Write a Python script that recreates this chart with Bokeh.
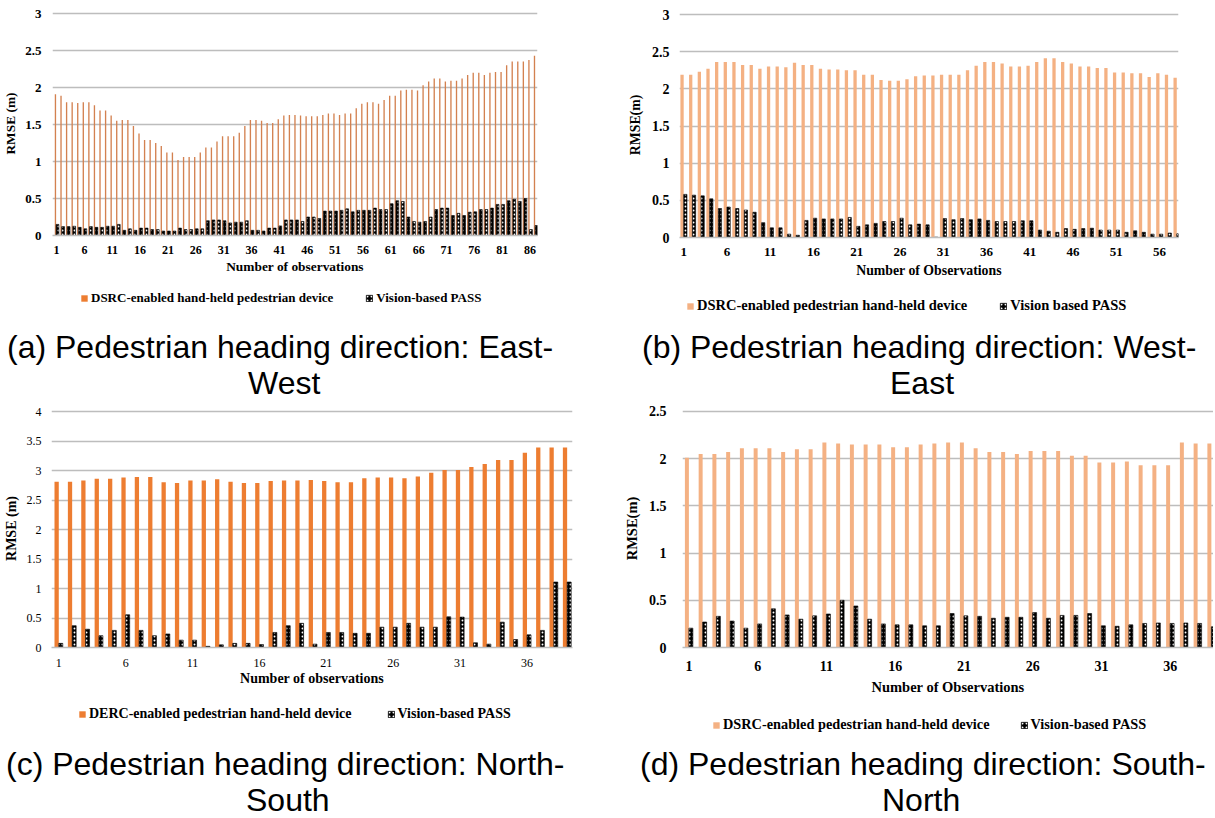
from bokeh.plotting import figure
from bokeh.models import (Range1d, FixedTicker, Legend, LegendItem, Div,
                          ColumnDataSource, CustomJSTickFormatter)
from bokeh.transform import dodge
from bokeh.layouts import row, column
from bokeh.embed import file_html
from bokeh.resources import INLINE

# ---------------- data ----------------
a_dsrc = [1.91, 1.89, 1.80, 1.80, 1.79, 1.80, 1.80, 1.76, 1.69, 1.69,
          1.62, 1.55, 1.56, 1.56, 1.48, 1.38, 1.29, 1.29, 1.25, 1.21,
          1.12, 1.12, 1.02, 1.06, 1.06, 1.06, 1.12, 1.19, 1.19, 1.27,
          1.34, 1.34, 1.34, 1.39, 1.48, 1.56, 1.56, 1.55, 1.52, 1.52,
          1.57, 1.62, 1.63, 1.63, 1.62, 1.61, 1.61, 1.61, 1.63, 1.65,
          1.65, 1.63, 1.65, 1.65, 1.72, 1.78, 1.80, 1.80, 1.78, 1.83,
          1.89, 1.89, 1.96, 1.97, 1.97, 1.96, 2.03, 2.08, 2.12, 2.12,
          2.08, 2.09, 2.09, 2.12, 2.17, 2.20, 2.20, 2.17, 2.20, 2.21,
          2.21, 2.30, 2.35, 2.35, 2.35, 2.37, 2.43]
a_pass = [0.15, 0.12, 0.12, 0.125, 0.11, 0.09, 0.12, 0.11, 0.11, 0.125,
          0.125, 0.15, 0.07, 0.09, 0.07, 0.10, 0.10, 0.08, 0.08, 0.06,
          0.06, 0.06, 0.10, 0.08, 0.08, 0.09, 0.09, 0.20, 0.21, 0.21,
          0.20, 0.17, 0.18, 0.18, 0.20, 0.07, 0.07, 0.06, 0.10, 0.10,
          0.13, 0.21, 0.21, 0.21, 0.19, 0.25, 0.25, 0.23, 0.33, 0.33,
          0.33, 0.34, 0.36, 0.32, 0.34, 0.34, 0.34, 0.37, 0.35, 0.35,
          0.43, 0.47, 0.46, 0.25, 0.19, 0.18, 0.19, 0.25, 0.35, 0.37,
          0.37, 0.27, 0.30, 0.27, 0.315, 0.32, 0.35, 0.35, 0.37, 0.42,
          0.42, 0.47, 0.49, 0.46, 0.50, 0.08, 0.135]

b_dsrc = [2.19, 2.19, 2.23, 2.27, 2.36, 2.36, 2.36, 2.32, 2.32, 2.27,
          2.30, 2.30, 2.29, 2.35, 2.32, 2.32, 2.27, 2.26, 2.26, 2.25,
          2.25, 2.19, 2.19, 2.12, 2.11, 2.11, 2.13, 2.17, 2.18, 2.18,
          2.19, 2.19, 2.19, 2.25, 2.31, 2.36, 2.36, 2.34, 2.30, 2.30,
          2.31, 2.36, 2.41, 2.41, 2.36, 2.34, 2.30, 2.30, 2.28, 2.28,
          2.22, 2.22, 2.21, 2.21, 2.16, 2.21, 2.19, 2.15]
b_pass = [0.58, 0.57, 0.56, 0.52, 0.39, 0.41, 0.39, 0.37, 0.34, 0.20,
          0.13, 0.13, 0.045, 0.03, 0.23, 0.26, 0.25, 0.25, 0.25, 0.27,
          0.15, 0.17, 0.19, 0.215, 0.215, 0.26, 0.17, 0.18, 0.17, 0.005,
          0.255, 0.24, 0.255, 0.24, 0.25, 0.23, 0.215, 0.215, 0.215, 0.225,
          0.225, 0.10, 0.085, 0.07, 0.12, 0.11, 0.12, 0.125, 0.10, 0.10,
          0.10, 0.07, 0.09, 0.07, 0.045, 0.045, 0.06, 0.05]

c_dsrc = [2.81, 2.81, 2.83, 2.86, 2.86, 2.88, 2.89, 2.89, 2.80, 2.79,
          2.83, 2.83, 2.85, 2.81, 2.79, 2.79, 2.82, 2.83, 2.83, 2.84,
          2.82, 2.80, 2.80, 2.87, 2.88, 2.88, 2.87, 2.90, 2.96, 3.01,
          3.01, 3.06, 3.11, 3.18, 3.18, 3.30, 3.39, 3.39, 3.39]
c_pass = [0.07, 0.37, 0.31, 0.20, 0.29, 0.555, 0.29, 0.20, 0.23, 0.125,
          0.125, 0.02, 0.045, 0.07, 0.07, 0.05, 0.255, 0.37, 0.41, 0.057,
          0.255, 0.255, 0.24, 0.24, 0.345, 0.345, 0.41, 0.345, 0.345, 0.52,
          0.515, 0.08, 0.057, 0.43, 0.135, 0.215, 0.29, 1.11, 1.11]

d_dsrc = [2.01, 2.05, 2.05, 2.07, 2.11, 2.11, 2.11, 2.07, 2.10, 2.10,
          2.17, 2.16, 2.15, 2.15, 2.15, 2.12, 2.12, 2.15, 2.16, 2.17,
          2.17, 2.11, 2.07, 2.07, 2.05, 2.08, 2.08, 2.08, 2.03, 2.03,
          1.96, 1.96, 1.97, 1.93, 1.93, 1.93, 2.17, 2.16, 2.16]
d_pass = [0.205, 0.27, 0.33, 0.28, 0.205, 0.25, 0.41, 0.345, 0.30, 0.335,
          0.355, 0.50, 0.44, 0.30, 0.25, 0.24, 0.24, 0.23, 0.23, 0.36,
          0.335, 0.33, 0.31, 0.32, 0.32, 0.37, 0.31, 0.34, 0.34, 0.36,
          0.23, 0.225, 0.24, 0.255, 0.26, 0.255, 0.26, 0.255, 0.22]

y_ticks_3 = [0, 0.5, 1, 1.5, 2, 2.5, 3]
y_ticks_4 = [0, 0.5, 1, 1.5, 2, 2.5, 3, 3.5, 4]
y_ticks_25 = [0, 0.5, 1, 1.5, 2, 2.5]

SERIF = "Liberation Serif"
SANS = "Liberation Sans"
GRID = "#BDBDBD"
ORANGE = "#ED7D31"
ORANGE_THIN = "#D38150"
PEACH = "#F4B183"

HATCH = dict(fill_color="black", line_color="black", line_width=0.6,
             hatch_pattern="dot", hatch_color="white", hatch_scale=4,
             hatch_weight=1.2)


def chart(W, H, fl, ft, fr, fb, xr, ymax, yticks, dsrc, vpass, ocolor,
          ooff, ow, koff, kw, ytitle, xtitle, tick_style, xfs, yfs, tfs,
          ylab_standoff, ytitle_standoff, xlab_standoff, xtitle_standoff):
    pad = 2
    ytop = ymax + pad * ymax / (fb - ft)
    p = figure(width=W, height=H, x_range=Range1d(*xr), y_range=Range1d(0, ytop),
               output_backend="svg", toolbar_location=None,
               min_border_left=fl, min_border_top=ft - pad,
               min_border_right=W - fr, min_border_bottom=H - fb)
    p.outline_line_color = None
    n = len(dsrc)
    src = ColumnDataSource(dict(obs=list(range(1, n + 1)), dsrc=dsrc, vpass=vpass))
    p.vbar(x=dodge("obs", ooff, range=p.x_range), top="dsrc", bottom=0,
           width=ow, source=src, fill_color=ocolor, line_color=None)
    p.vbar(x=dodge("obs", koff, range=p.x_range), top="vpass", bottom=0,
           width=kw, source=src, **HATCH)

    xa = p.xaxis[0]
    xa.ticker = FixedTicker(ticks=list(range(1, n + 1, 5)))
    xa.axis_line_color = GRID
    xa.axis_line_width = 1.6
    xa.major_tick_line_color = None
    xa.minor_tick_line_color = None
    xa.major_label_text_font = SERIF
    xa.major_label_text_font_size = xfs
    xa.major_label_text_font_style = tick_style
    xa.major_label_text_color = "black"
    xa.major_label_standoff = xlab_standoff
    xa.axis_label = xtitle
    xa.axis_label_text_font = SERIF
    xa.axis_label_text_font_size = tfs
    xa.axis_label_text_font_style = "bold"
    xa.axis_label_text_color = "black"
    xa.axis_label_standoff = xtitle_standoff

    ya = p.yaxis[0]
    ya.ticker = FixedTicker(ticks=yticks)
    ya.formatter = CustomJSTickFormatter(code="return tick.toString()")
    ya.axis_line_color = None
    ya.major_tick_line_color = None
    ya.minor_tick_line_color = None
    ya.major_label_text_font = SERIF
    ya.major_label_text_font_size = yfs
    ya.major_label_text_font_style = tick_style
    ya.major_label_text_color = "black"
    ya.major_label_standoff = ylab_standoff
    ya.axis_label = ytitle
    ya.axis_label_text_font = SERIF
    ya.axis_label_text_font_size = tfs
    ya.axis_label_text_font_style = "bold"
    ya.axis_label_text_color = "black"
    ya.axis_label_standoff = ytitle_standoff

    p.xgrid.visible = False
    p.ygrid.ticker = FixedTicker(ticks=yticks)
    p.ygrid.grid_line_color = GRID
    p.ygrid.grid_line_width = 1.6
    return p


def legend_strip(W, H, ocolor, lab1, lab2, lfs, leg_xy, leg_spacing):
    # axis-less strip holding the legend under each chart
    c = figure(width=W, height=H, x_range=Range1d(0, 1), y_range=Range1d(0, 1),
               output_backend="svg", toolbar_location=None,
               x_axis_location=None, y_axis_location=None, min_border=0)
    c.outline_line_color = None
    c.grid.visible = False
    nan = float("nan")
    r1 = c.vbar(x=[nan], top=[nan], width=0.1, fill_color=ocolor, line_color=None)
    r2 = c.vbar(x=[nan], top=[nan], width=0.1, **HATCH)
    leg = Legend(items=[LegendItem(label=lab1, renderers=[r1]),
                        LegendItem(label=lab2, renderers=[r2])],
                 orientation="horizontal", location=leg_xy,
                 padding=0, margin=0, border_line_color=None,
                 background_fill_alpha=0, spacing=leg_spacing,
                 glyph_width=8, glyph_height=8, label_height=14,
                 label_standoff=3,
                 label_text_font=SERIF, label_text_font_size=lfs,
                 label_text_font_style="bold", label_text_color="black")
    c.add_layout(leg)
    return c


def caption_div(W, H, line1, line2, pos1, pos2):
    html = ('<div style="position:relative;width:%dpx;height:%dpx;'
            'font-family:\'Liberation Sans\';font-size:32px;line-height:32px;'
            'color:black;white-space:nowrap">'
            '<div style="position:absolute;left:%dpx;top:%dpx">%s</div>'
            '<div style="position:absolute;left:%dpx;top:%dpx">%s</div></div>'
            % (W, H, pos1[0], pos1[1], line1, pos2[0], pos2[1], line2))
    return Div(text=html, width=W, height=H, margin=0,
               styles={"overflow": "visible"})


# ---- (a) ----
pa = chart(607, 285, 48, 13, 537, 235, (0.27, 87.34), 3, y_ticks_3,
           a_dsrc, a_pass, ORANGE_THIN, -0.2, 0.24, 0.17, 0.5,
           "RMSE (m)", "Number of observations",
           "bold", "12px", "13px", "13.4px", 5, 4, 4, 2)
la = legend_strip(607, 26, ORANGE, "DSRC-enabled hand-held pedestrian device",
                  "Vision-based PASS", "13px", (28, 5), 32)
da = caption_div(607, 87, "(a) Pedestrian heading direction: East-", "West",
                 (7, 20), (248, 56))

# ---- (b) ----
pb = chart(606, 287, 72, 14, 571, 237, (0.515, 58.2), 3, y_ticks_3,
           b_dsrc, b_pass, PEACH, -0.19, 0.38, 0.19, 0.38,
           "RMSE(m)", "Number of Observations",
           "bold", "13px", "14px", "13.8px", 4, 6, 4, 4)
lb = legend_strip(606, 30, PEACH, "DSRC-enabled pedestrian hand-held device",
                  "Vision based PASS", "14.5px", (7, 3), 32)
db = caption_div(606, 81, "(b) Pedestrian heading direction: West-", "East",
                 (35, 14), (283, 50))

# ---- (c) ----
pc = chart(607, 293, 49, 13, 572, 249, (0.456, 39.4), 4, y_ticks_4,
           c_dsrc, c_pass, ORANGE, -0.16, 0.32, 0.15, 0.3,
           "RMSE (m)", "Number of observations",
           "normal", "12px", "12px", "14px", 4, 5, 5, 1)
lc = legend_strip(607, 34, ORANGE, "DERC-enabled pedestrian hand-held device",
                  "Vision-based PASS", "14px", (27, 3), 35)
dc = caption_div(607, 91, "(c) Pedestrian heading direction: North-", "South",
                 (6, 23), (246, 59))

# ---- (d) ----
pd_ = chart(606, 299, 75, 13, 606, 253, (0.53, 39.15), 2.5, y_ticks_25,
            d_dsrc, d_pass, PEACH, -0.15, 0.29, 0.14, 0.29,
            "RMSE(m)", "Number of Observations",
            "bold", "14px", "14px", "14.5px", 10, 6, 7, 5)
ld = legend_strip(606, 36, PEACH, "DSRC-enabled pedestrian hand-held device",
                  "Vision-based PASS", "14.3px", (30, 0), 30)
dd = caption_div(606, 83, "(d) Pedestrian heading direction: South-", "North",
                 (33, 15), (275, 51))

layout = column(row(column(pa, la, da), column(pb, lb, db)),
                row(column(pc, lc, dc), column(pd_, ld, dd)))
open("out.html", "w").write(file_html(layout, INLINE))
